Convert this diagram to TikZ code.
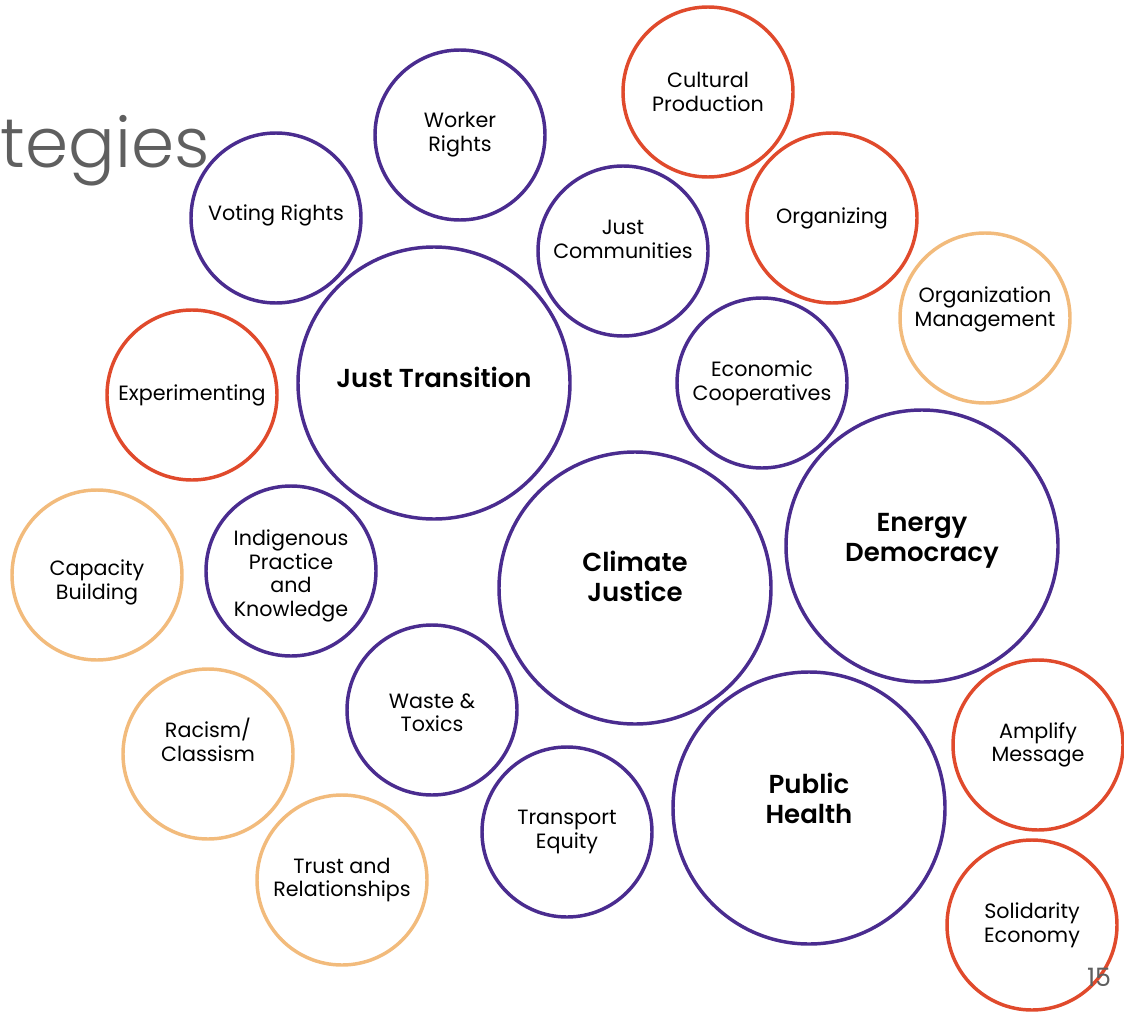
\documentclass[tikz,border=0pt]{standalone}
\usepackage{fontspec}
\setmainfont{Poppins}
\newfontfamily\headfont{Poppins Light}
\newfontfamily\keyfont{Poppins SemiBold}
\definecolor{jtpurple}{HTML}{4A2C8F}
\definecolor{jtred}{HTML}{E04A2C}
\definecolor{jtpeach}{HTML}{F2BB7C}
\definecolor{jtgrey}{HTML}{5F5F5F}
% text block moved up (or down) inside its circle
\newcommand{\lifttext}[2]{\raisebox{#1}[\height][\depth]{\begin{tabular}{@{}c@{}}#2\end{tabular}}}
\tikzset{
  bubble/.style={circle,draw,line width=2.6pt,minimum size=127.5pt,inner sep=0pt,align=center,font=\fontsize{15.5}{17.8}\selectfont},
  bigbubble/.style={bubble,minimum size=204pt,font=\fontsize{19.5}{22.5}\selectfont\keyfont},
  issue/.style={draw=jtpurple},
  tactic/.style={draw=jtred},
  base/.style={draw=jtpeach}
}
\begin{document}
\begin{tikzpicture}[x=0.75pt,y=-0.75pt]
        \useasboundingbox (0,0) rectangle (1124,1013);
        \node[anchor=base west,text=jtgrey,font=\fontsize{52}{56}\selectfont\headfont] (title) at (-4,168) {tegies};

        \node[bubble,issue] (worker) at (460,135) {Worker\\Rights};
        \node[bubble,tactic] (cultural) at (708,92) {Cultural\\Production};
        \node[bubble,issue] (voting) at (276,218) {\lifttext{2pt}{Voting Rights}};
        \node[bubble,issue] (communities) at (623,251) {\lifttext{7pt}{Just\\Communities}};
        \node[bubble,tactic] (organizing) at (832,218) {Organizing};
        \node[bubble,base] (management) at (985,318) {\lifttext{6pt}{Organization\\Management}};

        \node[bigbubble,issue] (transition) at (434,383) {\lifttext{1.5pt}{Just Transition}};
        \node[bubble,tactic] (experimenting) at (192,395) {Experimenting};
        \node[bubble,issue] (coops) at (762,383) {Economic\\Cooperatives};
        \node[bigbubble,issue] (energy) at (922,546) {\lifttext{4.5pt}{Energy\\Democracy}};
        \node[bigbubble,issue] (climate) at (635,588) {\lifttext{6pt}{Climate\\Justice}};

        \node[bubble,base] (capacity) at (97,575) {\lifttext{-6pt}{Capacity\\Building}};
        \node[bubble,issue] (indigenous) at (291,571) {\lifttext{-4pt}{Indigenous\\Practice\\and\\Knowledge}};
        \node[bubble,issue] (waste) at (432,710) {\lifttext{-4pt}{Waste \&\\Toxics}};
        \node[bubble,base] (racism) at (208,754) {\lifttext{8pt}{Racism/\\Classism}};
        \node[bubble,tactic] (amplify) at (1038,745) {Amplify\\Message};

        \node[bigbubble,issue] (health) at (809,808) {\lifttext{4.5pt}{Public\\Health}};
        \node[bubble,issue] (transport) at (567,832) {Transport\\Equity};
        \node[bubble,base] (trust) at (342,880) {Trust and\\Relationships};
        \node[bubble,tactic] (solidarity) at (1032,925) {Solidarity\\Economy};

        \node[text=jtgrey,font=\fontsize{19}{20}\selectfont] (page) at (1099,977) {15};
      \end{tikzpicture}
\end{document}
